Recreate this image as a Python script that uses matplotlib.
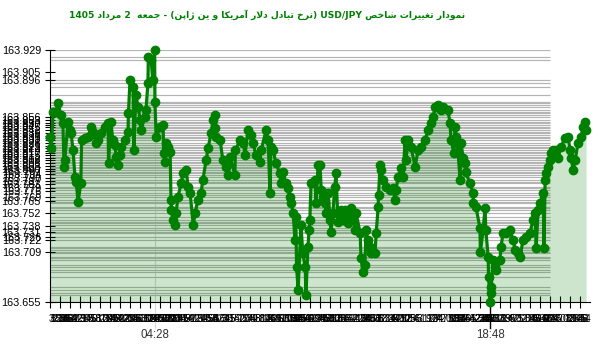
import re
import numpy as np
import matplotlib
matplotlib.use("Agg")
import matplotlib.pyplot as plt

# minutes after 00:00 and USD/JPY quotes
minutes = [0, 3, 8, 15, 21, 28, 33, 36, 38, 46, 51, 54, 59, 64, 67, 72, 79, 81, 90, 97,
           105, 110, 118, 123, 131, 141, 149, 150, 156, 161, 167, 169, 174, 179, 182, 192, 200, 201, 205, 213,
           215, 220, 226, 231, 233, 243, 246, 251, 252, 259, 264, 268, 269, 272, 282, 290, 291, 295, 297, 302,
           308, 310, 311, 315, 320, 323, 328, 336, 341, 349, 354, 359, 367, 372, 379, 387, 392, 400, 405, 413,
           418, 423, 424, 425, 436, 443, 451, 456, 461, 474, 475, 487, 495, 500, 507, 515, 520, 528, 538, 541,
           554, 559, 564, 566, 572, 579, 589, 591, 597, 605, 610, 615, 618, 623, 628, 630, 632, 636, 643, 648,
           654, 656, 661, 664, 666, 669, 679, 682, 687, 692, 695, 700, 705, 707, 713, 718, 720, 725, 730, 733,
           738, 746, 751, 756, 764, 771, 777, 782, 784, 795, 797, 802, 807, 810, 815, 820, 823, 833, 836, 841,
           842, 846, 848, 853, 861, 871, 879, 884, 887, 892, 900, 905, 910, 912, 918, 925, 936, 943, 951, 961,
           969, 977, 982, 987, 994, 1002, 1007, 1020, 1025, 1028, 1035, 1038, 1041, 1046, 1051, 1053, 1059, 1064, 1066, 1076,
           1084, 1085, 1092, 1102, 1103, 1110, 1115, 1117, 1123, 1124, 1128, 1130, 1131, 1135, 1141, 1143, 1153, 1156, 1161, 1169,
           1179, 1187, 1192, 1200, 1205, 1212, 1220, 1230, 1238, 1243, 1246, 1251, 1256, 1264, 1266, 1269, 1271, 1276, 1282, 1284,
           1289, 1297, 1302, 1310, 1320, 1328, 1333, 1335, 1341, 1346, 1353, 1361, 1366, 1371, 1374]
prices = [163.834, 163.822, 163.862, 163.862, 163.871, 163.858, 163.850, 163.802, 163.809, 163.851,
          163.842, 163.839, 163.820, 163.791, 163.786, 163.764, 163.784, 163.831, 163.833, 163.834,
          163.845, 163.840, 163.828, 163.831, 163.839, 163.845, 163.850, 163.806, 163.851, 163.831,
          163.826, 163.813, 163.804, 163.815, 163.824, 163.831, 163.840, 163.860, 163.896, 163.889,
          163.820, 163.880, 163.867, 163.853, 163.842, 163.856, 163.864, 163.893, 163.921, 163.918,
          163.896, 163.929, 163.872, 163.834, 163.845, 163.847, 163.817, 163.807, 163.828, 163.824,
          163.818, 163.766, 163.755, 163.744, 163.739, 163.752, 163.769, 163.784, 163.795, 163.799,
          163.780, 163.774, 163.739, 163.752, 163.766, 163.774, 163.788, 163.809, 163.822, 163.839,
          163.853, 163.858, 163.844, 163.834, 163.831, 163.809, 163.802, 163.793, 163.813, 163.793,
          163.820, 163.831, 163.828, 163.815, 163.842, 163.837, 163.828, 163.815, 163.807, 163.820,
          163.842, 163.831, 163.774, 163.824, 163.820, 163.806, 163.795, 163.784, 163.796, 163.784,
          163.779, 163.769, 163.763, 163.752, 163.722, 163.747, 163.693, 163.668, 163.739, 163.708,
          163.693, 163.663, 163.715, 163.733, 163.744, 163.784, 163.788, 163.763, 163.804, 163.804,
          163.777, 163.769, 163.763, 163.752, 163.774, 163.744, 163.731, 163.752, 163.780, 163.795,
          163.742, 163.755, 163.744, 163.755, 163.741, 163.757, 163.747, 163.733, 163.752, 163.730,
          163.703, 163.688, 163.695, 163.733, 163.722, 163.715, 163.708, 163.708, 163.730, 163.758,
          163.771, 163.804, 163.799, 163.788, 163.780, 163.777, 163.779, 163.766, 163.777, 163.791,
          163.801, 163.791, 163.831, 163.809, 163.831, 163.824, 163.802, 163.820, 163.824, 163.831,
          163.842, 163.850, 163.856, 163.867, 163.869, 163.864, 163.867, 163.864, 163.850, 163.831,
          163.817, 163.845, 163.834, 163.817, 163.788, 163.828, 163.812, 163.806, 163.796, 163.784,
          163.774, 163.763, 163.758, 163.735, 163.709, 163.733, 163.757, 163.733, 163.704, 163.682,
          163.655, 163.665, 163.671, 163.701, 163.693, 163.690, 163.701, 163.715, 163.730, 163.730,
          163.733, 163.722, 163.712, 163.708, 163.704, 163.722, 163.726, 163.730, 163.744, 163.752,
          163.714, 163.755, 163.763, 163.774, 163.714, 163.788, 163.795, 163.802, 163.809, 163.817,
          163.820, 163.820, 163.812, 163.824, 163.833, 163.834, 163.820, 163.812, 163.799, 163.809,
          163.828, 163.834, 163.845, 163.851, 163.842]

y_labels = [163.929, 163.905, 163.896, 163.856, 163.853, 163.850, 163.847, 163.845, 163.842, 163.839,
            163.836, 163.833, 163.831, 163.828, 163.825, 163.822, 163.819, 163.817, 163.815, 163.812,
            163.809, 163.806, 163.803, 163.800, 163.797, 163.794, 163.790, 163.787, 163.783, 163.779,
            163.776, 163.769, 163.765, 163.752, 163.738, 163.731, 163.726, 163.722, 163.709, 163.655]

max_label = "04:28"
min_label = "18:48"
title = "نمودار تغییرات شاخص USD/JPY (نرخ تبادل دلار آمریکا و ین ژاپن) - جمعه  2 مرداد 1405"

# --- tiny Persian shaper (matplotlib draws no contextual forms) ---
FORMS = {
    "ا": "\uFE8D\uFE8E", "آ": "\uFE81\uFE82", "د": "\uFEA9\uFEAA", "ر": "\uFEAD\uFEAE",
    "ژ": "\uFB8A\uFB8B", "و": "\uFEED\uFEEE",
    "ب": "\uFE8F\uFE90\uFE91\uFE92", "پ": "\uFB56\uFB57\uFB58\uFB59", "ت": "\uFE95\uFE96\uFE97\uFE98",
    "ج": "\uFE9D\uFE9E\uFE9F\uFEA0", "خ": "\uFEA5\uFEA6\uFEA7\uFEA8", "ش": "\uFEB5\uFEB6\uFEB7\uFEB8",
    "ص": "\uFEB9\uFEBA\uFEBB\uFEBC", "ع": "\uFEC9\uFECA\uFECB\uFECC", "غ": "\uFECD\uFECE\uFECF\uFED0",
    "ک": "\uFB8E\uFB8F\uFB90\uFB91", "ل": "\uFEDD\uFEDE\uFEDF\uFEE0", "م": "\uFEE1\uFEE2\uFEE3\uFEE4",
    "ن": "\uFEE5\uFEE6\uFEE7\uFEE8", "ه": "\uFEE9\uFEEA\uFEEB\uFEEC", "ی": "\uFBFC\uFBFD\uFBFE\uFBFF",
}
LAM_ALEF = {"ا": "\uFEFB\uFEFC", "آ": "\uFEF5\uFEF6"}


def rtl(text):
    res = []
    i = 0
    while i < len(text):
        ch = text[i]
        if ch not in FORMS:
            res.append(ch)
            i += 1
            continue
        prev = text[i - 1] if i > 0 else ""
        join_prev = prev in FORMS and len(FORMS[prev]) == 4
        nxt = text[i + 1] if i + 1 < len(text) else ""
        if ch == "ل" and nxt in LAM_ALEF:
            res.append(LAM_ALEF[nxt][1 if join_prev else 0])
            i += 2
            continue
        join_next = nxt in FORMS and len(FORMS[ch]) == 4
        f = FORMS[ch]
        if join_prev and join_next:
            res.append(f[3])
        elif join_prev:
            res.append(f[1])
        elif join_next:
            res.append(f[2])
        else:
            res.append(f[0])
        i += 1
    vis = "".join(res)[::-1]
    vis = re.sub(r"[A-Za-z0-9/.]+", lambda m: m.group()[::-1], vis)
    return vis.translate(str.maketrans("()", ")("))


green = "#008000"
t = np.array(minutes)
p = np.array(prices)
ymin, ymax = 163.655, 163.929
xmax = 1384
label_font = "Liberation Sans"

fig = plt.figure(figsize=(6, 3.52), dpi=100)
ax = fig.add_axes([50 / 600, 1 - 302 / 352, 540 / 600, 252 / 352])

# a grid line for every quoted price
ax.hlines(np.unique(p), 0, 1282, colors="#b4b4b4", linewidth=0.85, zorder=1)
ax.fill_between(t, p, ymin, color=green, alpha=0.2, linewidth=0, zorder=2)
ax.plot(t, p, color=green, linewidth=2.3, marker="o", markersize=6, zorder=4, clip_on=False)

ax.set_xlim(0, xmax)
ax.set_ylim(ymin, ymax)
for s in ["top", "right"]:
    ax.spines[s].set_visible(False)

ax.set_yticks(y_labels)
ax.set_yticklabels([f"{v:.3f}" for v in y_labels], fontsize=7.8, family=label_font)
ax.tick_params(axis="y", direction="inout", length=7, pad=3)

step = 10 * 2.563
ax.set_xticks(np.arange(54) * step)
ax.set_xticklabels([])
ax.tick_params(axis="x", which="major", direction="inout", length=8)
ax.set_xticks(t, minor=True)
ax.set_xticklabels([str(m % 60) for m in minutes], minor=True, fontsize=7, family=label_font)
ax.tick_params(axis="x", which="minor", length=0, pad=9)

# max / min time markers
t_max = minutes[int(np.argmax(p))]
t_min = minutes[int(np.argmin(p))]
ax.plot([t_max, t_max], [ymax, ymin - 0.028], color="#d8d8d8", linewidth=0.8, clip_on=False, zorder=0)
ax.plot([t_min, t_min], [ymin, ymin - 0.028], color="black", linewidth=1, clip_on=False, zorder=3)
ax.text(t_max, ymin - 0.036, max_label, ha="center", va="center", fontsize=8.3,
        color="#333333", family=label_font)
ax.text(t_min, ymin - 0.036, min_label, ha="center", va="center", fontsize=8.3,
        color="#333333", family=label_font)

fig.text(267 / 600, 1 - 15 / 352, rtl(title), ha="center", va="center",
         fontsize=6.6, fontweight="bold", color=green, family=["DejaVu Sans"])

fig.savefig("out.png", dpi=100)
